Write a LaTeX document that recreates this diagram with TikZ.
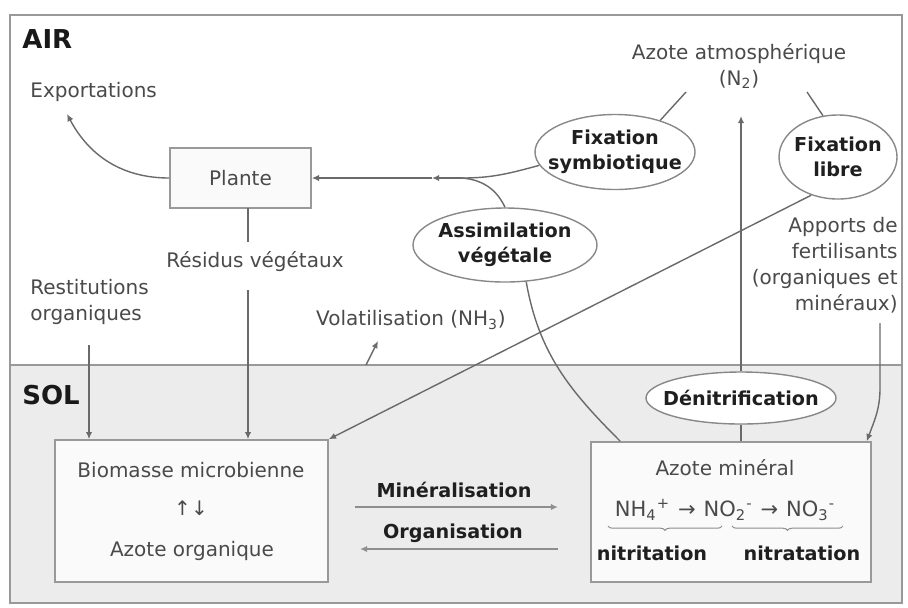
\documentclass[tikz,border=0pt]{standalone}
\usepackage{fontspec}
\setmainfont{DejaVu Sans}
\usetikzlibrary{shapes.geometric,arrows.meta,decorations.pathreplacing,calc}
\definecolor{linecol}{HTML}{6A6A6A}
\definecolor{lightline}{HTML}{8E8E8E}
\definecolor{txtcol}{HTML}{4A4A4A}
\definecolor{framecol}{HTML}{999999}
\definecolor{solbg}{HTML}{ECECEC}
\definecolor{boxbg}{HTML}{FAFAFA}
\begin{document}
\begin{tikzpicture}[x=0.5pt,y=-0.5pt,
  txt/.style={font=\fontsize{10}{12.8}\selectfont, text=txtcol, inner sep=0pt},
  btxt/.style={font=\fontsize{9.6}{12.5}\selectfont\bfseries, text=black!88, inner sep=0pt},
  lbl/.style={font=\fontsize{13}{15}\selectfont\bfseries, text=black!90, inner sep=0pt},
  boxnode/.style={draw=framecol, line width=0.8pt, fill=boxbg, inner sep=0pt},
  ell/.style={ellipse, draw=linecol!80, line width=0.7pt, fill=white, inner sep=0pt},
  ln/.style={draw=linecol, line width=0.7pt},
  arr/.style={ln, -{Latex[length=3.6pt,width=3.2pt]}},
  larr/.style={draw=lightline, line width=0.7pt, -{Latex[length=3.6pt,width=3.2pt]}},
  bracestyle/.style={draw=lightline, line width=0.5pt, decorate, decoration={brace, mirror, amplitude=2.2pt}}
]
\useasboundingbox (0,0) rectangle (908,607);
\fill[white] (0,0) rectangle (908,607);
\fill[solbg] (10,365) rectangle (902,603);
\draw[framecol, line width=1pt] (10,15) rectangle (902,603);
\draw[framecol, line width=1pt] (10,365) -- (902,365);

% labels
\node[lbl, anchor=west] (air) at (22,39) {AIR};
\node[lbl, anchor=west] (sol) at (22,395) {SOL};
\node[txt, anchor=west] (exp) at (30,92) {Exportations};
\node[txt, align=center] (atm) at (739,66) {Azote atmosphérique\\(N\textsubscript{2})};
\node[txt, anchor=west, align=left] (rest) at (30,302) {Restitutions\\organiques};
\node[txt] (res) at (255,262) {Résidus végétaux};
\node[txt] (vol) at (411,320) {Volatilisation (NH\textsubscript{3})};
\node[txt, align=right, anchor=north east, font=\fontsize{10}{13}\selectfont] (fert) at (898,217) {Apports de\\fertilisants\\(organiques et\\minéraux)};

% boxes
\node[boxnode, minimum width=70.5pt, minimum height=30pt] (plante) at (240.5,178) {};
\node[txt] at (plante) {Plante};
\node[boxnode, minimum width=136.5pt, minimum height=71pt] (bio) at (191.5,511) {};
\node[txt] (bio1) at (191,470) {Biomasse microbienne};
\node[txt] (bio2) at (191,508) {↑↓};
\node[txt] (bio3) at (192,551) {Azote organique};
\node[boxnode, minimum width=140pt, minimum height=70pt] (amin) at (731,512) {};
\node[txt] (amin1) at (725,468) {Azote minéral};
\node[txt, font=\fontsize{10.5}{12}\selectfont] (form) at (725,510) {NH\textsubscript{4}\textsuperscript{+}\hspace{4pt}→\hspace{4pt}NO\textsubscript{2}\textsuperscript{-}\hspace{4pt}→\hspace{4pt}NO\textsubscript{3}\textsuperscript{-}};
\node[btxt] (nitri) at (652,553) {nitritation};
\node[btxt] (nitra) at (802,553) {nitratation};
\draw[bracestyle] (608,526) -- (722,526);
\draw[bracestyle] (732,526) -- (843,526);

% ellipses
\node[ell, minimum width=80pt, minimum height=37.5pt] (fixsym) at (615,152) {};
\node[btxt, align=center] at (fixsym) {Fixation\\symbiotique};
\node[ell, minimum width=59pt, minimum height=42pt] (fixlib) at (838,157) {};
\node[btxt, align=center] at (fixlib) {Fixation\\libre};
\node[ell, minimum width=92pt, minimum height=37pt] (assim) at (505,245) {};
\node[btxt, align=center] at (assim) {Assimilation\\végétale};
\node[ell, minimum width=95pt, minimum height=26pt] (denit) at (741,398) {};
\node[btxt] at (denit) {Dénitrification};

% mineralisation / organisation
\node[btxt] (mine) at (454,490) {Minéralisation};
\node[btxt] (orga) at (453,533) {Organisation};
\coordinate (m1) at (355,507);
\coordinate (m2) at (558,507);
\coordinate (o1) at (558,549);
\coordinate (o2) at (360,549);
\draw[larr] (m1) -- (m2);
\draw[larr] (o1) -- (o2);

% connectors
\coordinate (j) at (462,178);
\coordinate (mid) at (432,178);
\draw[ln] (fixsym.190) to[out=195,in=0] (j);
\draw[ln] (assim.north) to[out=115,in=-5] (j);
\draw[arr] (j) -- (mid);
\draw[arr] (mid) -- (plante.east);
\coordinate (expt) at (67,114);
\draw[arr] (plante.west) to[out=180,in=-62] (expt);

\coordinate (a1) at (686,92);
\coordinate (a2) at (807,92);
\draw[ln] (a1) -- (fixsym.35);
\draw[ln] (a2) -- (fixlib.110);
\coordinate (n2) at (741,116);
\draw[arr] (denit.north) -- (n2);
\draw[arr] (fixlib.235) -- (bio.north east);
\draw[ln] (assim.300) to[out=-80,in=135] ($(amin.north west)+(30,0)$);
\draw[ln] (denit.south) -- (denit.south |- amin.north);

\coordinate (r1) at (89,345);
\draw[arr] (r1) -- (r1 |- bio.north);
\coordinate (p1) at (248,208);
\coordinate (p2) at (248,242);
\coordinate (p3) at (248,290);
\draw[ln] (p1) -- (p2);
\draw[arr] (p3) -- (p3 |- bio.north);
\coordinate (v1) at (366,365);
\coordinate (v2) at (378,341);
\draw[arr] (v1) -- (v2);
\coordinate (f1) at (880,323);
\coordinate (f2) at (880,388);
\draw[arr] (f1) -- (f2) to[out=-90,in=70] ($(amin.north east)+(-5,0)$);
\end{tikzpicture}
\end{document}
